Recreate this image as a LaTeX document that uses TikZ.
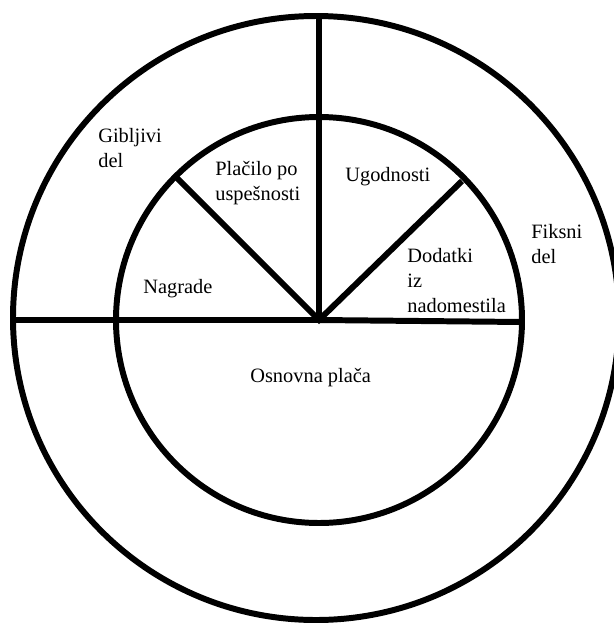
\documentclass[tikz,border=0pt]{standalone}
\usepackage{fontspec}
\setmainfont{Liberation Serif}
\begin{document}
\begin{tikzpicture}[x=0.02cm, y=-0.02cm, every node/.style={font=\fontsize{11.6}{14.2}\selectfont, inner sep=0pt, align=left, anchor=base west}, ring/.style={line width=3.4pt}]
        \useasboundingbox (0,0) rectangle (614,623);
        \clip (0,0) rectangle (614,623);
        \coordinate (c) at (319,320);

        % circles
        \draw[ring] (316,318) ellipse [x radius=303, y radius=302];
        \draw[ring] (c) circle [radius=203];

        % dividing lines
        \draw[ring] (13,320) -- (c) -- (522,322);
        \draw[ring] (c) -- (319,16);
        \draw[ring] (176,177) -- (c) -- (462,181);

        % labels (base = last line)
        \node (gib) at (98,167) {Gibljivi\\del};
        \node (fik) at (531,263) {Fiksni\\del};
        \node (pla) at (215,200) {Plačilo po\\uspešnosti};
        \node (ugo) at (345,181) {Ugodnosti};
        \node (dod) at (407,312) {Dodatki\\iz\\nadomestila};
        \node (nag) at (143,293) {Nagrade};
        \node (osn) at (250,382) {Osnovna plača};
    \end{tikzpicture}
\end{document}
